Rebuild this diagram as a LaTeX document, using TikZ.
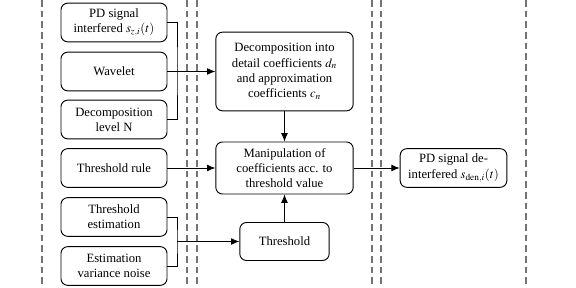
\documentclass[tikz,border=0pt]{standalone}
\usepackage{mathptmx}
\usepackage[no-math]{fontspec}
\setmainfont{Liberation Serif}
\usepackage{tikz}
\usetikzlibrary{arrows.meta,positioning,calc}

\begin{document}
\begin{tikzpicture}[
    x=0.75pt, y=-0.75pt,
    font=\rmfamily\fontsize{9.5}{11.4}\selectfont,
    box/.style={draw, rounded corners=5pt, align=center, line width=0.7pt, inner sep=1pt},
    inbox/.style={box, minimum width=79.5pt, minimum height=29pt},
    arrow/.style={-{Latex[length=2.2mm, width=1.8mm]}, line width=0.6pt},
    sep/.style={draw=black!55, dashed, dash pattern=on 5pt off 3pt, line width=0.9pt}
]
\useasboundingbox (0,0) rectangle (576,288);

% dashed column separators
\foreach \xx in {42,187,197,372,381,526}
  \draw[sep] (\xx,0) -- (\xx,288);

% inputs
\node[inbox] (sig) at (114,22.5) {PD signal\\interfered $s_{z,i}(t)$};
\node[inbox] (wav) at (114,71.5) {Wavelet};
\node[inbox] (lev) at (114,119.5) {Decomposition\\level N};
\node[inbox] (rule) at (114,168) {Threshold rule};
\node[inbox] (est) at (114,217) {Threshold\\estimation};
\node[inbox] (var) at (114,266) {Estimation\\variance noise};

% processing
\node[box, minimum width=103pt, minimum height=59pt] (dec) at (284.5,71.5)
  {Decomposition into\\detail coefficients $d_n$\\and approximation\\coefficients $c_n$};
\node[box, minimum width=103pt, minimum height=39pt] (man) at (284.5,168)
  {Manipulation of\\coefficients acc. to\\threshold value};
\node[box, minimum width=67pt, minimum height=28.5pt] (thr) at (284.5,241.5) {Threshold};

% output
\node[box, minimum width=80pt, minimum height=29pt] (out) at (453.5,168)
  {PD signal de-\\interfered $s_{\mathrm{den},i}(t)$};

\coordinate (j1) at (177,71.5);
\coordinate (j2) at (177,241.5);

\draw[line width=0.6pt] (sig.east) -| (j1) |- (lev.east);
\draw[arrow] (wav.east) -- (dec.west);
\draw[arrow] (rule.east) -- (man.west);
\draw[line width=0.6pt] (est.east) -| (j2) |- (var.east);
\draw[arrow] (j2) -- (thr.west);
\draw[arrow] (dec.south) -- (man.north);
\draw[arrow] (thr.north) -- (man.south);
\draw[arrow] (man.east) -- (out.west);
\end{tikzpicture}
\end{document}
